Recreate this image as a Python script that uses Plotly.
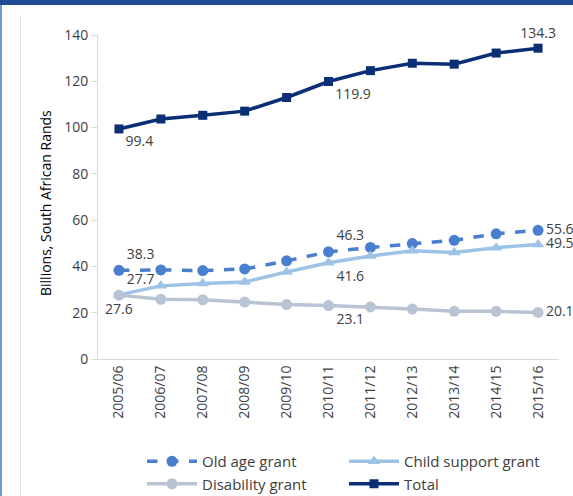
import plotly.graph_objects as go

years = ["2005/06", "2006/07", "2007/08", "2008/09", "2009/10", "2010/11",
         "2011/12", "2012/13", "2013/14", "2014/15", "2015/16"]
old_age = [38.3, 38.5, 38.2, 38.9, 42.4, 46.3, 48.2, 49.9, 51.3, 54.1, 55.6]
child_support = [27.7, 31.6, 32.6, 33.3, 37.6, 41.6, 44.5, 46.8, 46.0, 48.1, 49.5]
disability = [27.6, 25.8, 25.6, 24.6, 23.5, 23.1, 22.5, 21.6, 20.6, 20.6, 20.1]
total = [99.4, 103.7, 105.3, 107.1, 113.0, 119.9, 124.6, 127.8, 127.4, 132.2, 134.3]
y_title = "Billions, South African Rands"
labelled = [0, 5, 10]


def labels(vals):
    return [f"{v:.1f}" if i in labelled else "" for i, v in enumerate(vals)]


def positions(p0, p5, p10):
    pos = ["top center"] * len(years)
    pos[0], pos[5], pos[10] = p0, p5, p10
    return pos


FONT = "Open Sans"
TXT = dict(family=FONT, size=14, color="#404040")

fig = go.Figure()
fig.add_trace(go.Scatter(
    x=years, y=old_age, name="Old age grant", mode="lines+markers+text",
    line=dict(color="#4A7FCF", width=3.5, dash="dash"),
    marker=dict(symbol="circle", size=11, color="#4A7FCF"),
    text=labels(old_age), textposition=positions("top right", "top right", "middle right"),
    textfont=TXT, cliponaxis=False))
fig.add_trace(go.Scatter(
    x=years, y=child_support, name="Child support grant", mode="lines+markers+text",
    line=dict(color="#9DC3E6", width=3.5),
    marker=dict(symbol="triangle-up", size=11, color="#9DC3E6"),
    text=labels(child_support), textposition=positions("top right", "bottom right", "middle right"),
    textfont=TXT, cliponaxis=False))
fig.add_trace(go.Scatter(
    x=years, y=disability, name="Disability grant", mode="lines+markers+text",
    line=dict(color="#B8C4D4", width=3.5),
    marker=dict(symbol="circle", size=11, color="#B8C4D4"),
    text=labels(disability), textposition=positions("bottom center", "bottom right", "middle right"),
    textfont=TXT, cliponaxis=False))
fig.add_trace(go.Scatter(
    x=years, y=total, name="Total", mode="lines+markers+text",
    line=dict(color="#0B2F75", width=3.5),
    marker=dict(symbol="square", size=9, color="#0B2F75"),
    text=labels(total), textposition=positions("bottom right", "bottom right", "top center"),
    textfont=TXT, cliponaxis=False))

L, R, T, B = 98, 14, 35, 137
W, H = 573, 496
pw = W - L - R
ph = H - T - B


def px(xp):
    return (xp - L) / pw


def py(yp):
    return (H - B - yp) / ph


fig.update_layout(
    width=W, height=H,
    margin=dict(l=L, r=R, t=T, b=B, autoexpand=False),
    paper_bgcolor="white", plot_bgcolor="white",
    font=dict(family=FONT, size=14, color="#595959"),
    showlegend=True,
    legend=dict(orientation="h", x=px(142), y=py(445), xanchor="left", yanchor="top",
                entrywidth=137, entrywidthmode="pixels", itemwidth=50,
                font=dict(family=FONT, size=15, color="#404040"),
                traceorder="normal", tracegroupgap=0, bgcolor="rgba(0,0,0,0)"),
    xaxis=dict(type="category", range=[-0.5, 10.5], tickangle=-90, automargin=False,
               showline=True, linecolor="#D9D9D9", linewidth=1,
               ticks="", showgrid=False, zeroline=False,
               tickfont=dict(family=FONT, size=14, color="#404040")),
    yaxis=dict(range=[0, 140], dtick=20, showline=True, linecolor="#D9D9D9", linewidth=1,
               ticks="outside", ticklen=6, tickcolor="#D9D9D9", automargin=False,
               showgrid=False, zeroline=False,
               tickfont=dict(family=FONT, size=14, color="#404040")),
    annotations=[dict(text=y_title, textangle=-90, xref="paper", yref="paper",
                      x=px(45), y=py(203), xanchor="center", yanchor="middle",
                      showarrow=False, font=dict(family=FONT, size=14, color="#000000"))],
    shapes=[
        dict(type="rect", xref="paper", yref="paper", x0=px(0), x1=px(W), y0=py(5), y1=py(0),
             fillcolor="#1F4A94", line=dict(width=0), layer="above"),
        dict(type="rect", xref="paper", yref="paper", x0=px(0), x1=px(2), y0=py(H), y1=py(5),
             fillcolor="#6F98D0", line=dict(width=0), layer="above"),
        dict(type="line", xref="paper", yref="paper", x0=px(20.5), x1=px(20.5), y0=py(H), y1=py(15),
             line=dict(color="#E3E3E3", width=1), layer="above"),
    ],
)

fig.write_html("out.html", config={"displayModeBar": False},
               post_script="document.body.style.margin='0';document.body.style.overflow='hidden';")
